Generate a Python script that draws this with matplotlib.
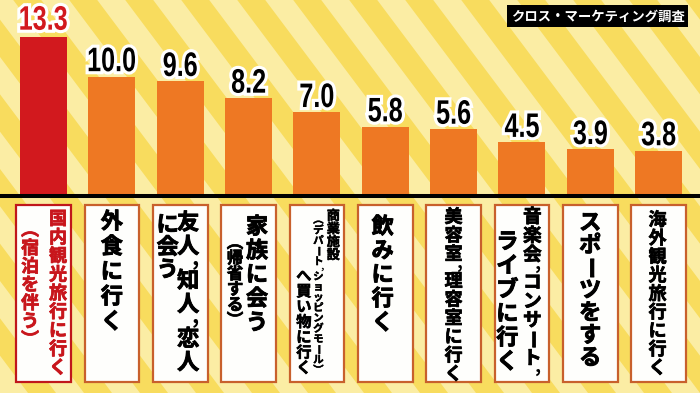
import matplotlib
matplotlib.use("Agg")
import matplotlib.pyplot as plt
import matplotlib.patches as mpatches
import matplotlib.transforms as mtransforms
import matplotlib.patheffects as pe
from matplotlib.textpath import TextPath
from matplotlib.font_manager import FontProperties

plt.rcParams['font.family'] = ['Noto Sans CJK JP', 'DejaVu Sans']

# --- data ---
categories = [
    "国内観光旅行に行く\n（宿泊を伴う）",
    "外食に行く",
    "友人，知人，恋人\nに会う",
    "家族に会う\n（帰省する）",
    "商業施設\n（デパート，ショッピングモール）\nへ買い物に行く",
    "飲みに行く",
    "美容室，理容室に行く",
    "音楽会，コンサート，\nライブに行く",
    "スポーツをする",
    "海外観光旅行に行く",
]
values = [13.3, 10.0, 9.6, 8.2, 7.0, 5.8, 5.6, 4.5, 3.9, 3.8]
source = "クロス・マーケティング調査"

# column layout of each vertical label: (dx px, first char y px, font size, step px)
label_cols = [
    [(14.5, 219, 13, 18.6), (-13.5, 230, 13, 18.3)],
    [(0, 222, 16, 25)],
    [(8, 223, 16, 23.7), (-12.5, 225, 16, 22.5)],
    [(8.5, 227, 16, 24), (-13.5, 243, 12, 15.5)],
    [(16.5, 216, 9.5, 13), (1.5, 220, 7.5, 10.4), (-13, 276, 11, 15.3)],
    [(-2.5, 227, 16, 24)],
    [(0, 217, 13, 18.6)],
    [(10.5, 217, 13.5, 19), (-14.5, 242, 16, 24)],
    [(0, 223, 16, 22.5)],
    [(-1, 220, 13, 18.5)],
]

W, H = 700, 393
RED = '#D2191E'
ORANGE = '#EE7823'

fig = plt.figure(figsize=(W / 100, H / 100), dpi=100)

# background with diagonal stripes (pixel coords)
bg = fig.add_axes([0, 0, 1, 1], zorder=0)
bg.set_xlim(0, W)
bg.set_ylim(H, 0)
bg.axis('off')
bg.add_patch(mpatches.Rectangle((0, 0), W, H, color='#F8DC5E', lw=0))
slant, period = 0.75, 56
x0 = -H * slant - period
while x0 < W + period:
    bg.add_patch(mpatches.Polygon(
        [(x0, 0), (x0 + period / 2, 0), (x0 + period / 2 + H * slant, H), (x0 + H * slant, H)],
        closed=True, color='#FBEDA4', lw=0))
    x0 += period

# source tag
bg.add_patch(mpatches.Rectangle((507, 5), 181, 22, color='black', lw=0))
bg.text(597.5, 16.5, source, color='white', fontsize=9.6, fontweight='bold',
        ha='center', va='center')

# bars
ax = fig.add_axes([0, 0, 1, 1], zorder=1)
ax.patch.set_alpha(0)
ax.axis('off')
ax.set_xlim(-0.637, 9.607)
px_per_unit = 11.95
ax.set_ylim(-197 / px_per_unit, 196 / px_per_unit)

x = list(range(len(values)))
colors = [RED] + [ORANGE] * (len(values) - 1)
ax.bar(x, values, width=0.69, color=colors, zorder=2)
ax.axhline(0, color='black', lw=2.9, zorder=3)

# value labels: condensed bold digits with a white rim
num_font = FontProperties(family='Liberation Sans', weight='bold')
for i, v in enumerate(values):
    tp = TextPath((0, 0), f"{v:.1f}", size=34, prop=num_font)
    ext = tp.get_extents()
    gap = 7 if i == 0 else 5
    tr = (mtransforms.Affine2D().translate(-(ext.x0 + ext.x1) / 2, -ext.y0)
          .scale(0.74, 1.0).translate(0, gap)
          + mtransforms.ScaledTranslation(i, v, ax.transData))
    ax.add_patch(mpatches.PathPatch(
        tp, transform=tr, facecolor=RED if i == 0 else 'black', edgecolor='none',
        clip_on=False, zorder=4,
        path_effects=[pe.withStroke(linewidth=4.5, foreground='white')]))

# label boxes: x tied to the bars, y in image pixels
pix = mtransforms.Affine2D().scale(1 / 100, -1 / 100).translate(0, H / 100) + fig.dpi_scale_trans
bx = mtransforms.blended_transform_factory(ax.transData, pix)

vertical_forms = {'（': '︵', '）': '︶'}
for i, label in enumerate(categories):
    edge = '#C0171B' if i == 0 else '#C8602C'
    tcol = '#C8161C' if i == 0 else 'black'
    ax.add_patch(mpatches.Rectangle((i - 0.4, 205), 0.8, 177, transform=bx,
                                    facecolor='#FEFEFC', edgecolor=edge, lw=1.6,
                                    clip_on=False, zorder=2))
    for col_text, (dx, y0, size, step) in zip(label.split('\n'), label_cols[i]):
        em = size * 100 / 72
        bold = [pe.withStroke(linewidth=0.04 * size, foreground=tcol)]
        y = y0 - step / 2
        for ch in col_text:
            adv = 0.45 if ch == '，' else 1.0
            yc = y + adv * step / 2
            if ch == '，':
                tr = mtransforms.offset_copy(bx, fig=fig, x=dx + 0.32 * em, y=0, units='dots')
                ax.text(i, yc - 0.3 * em, ',', transform=tr, fontsize=size, fontweight='bold',
                        color=tcol, ha='center', va='center', clip_on=False, zorder=3)
            else:
                tr = mtransforms.offset_copy(bx, fig=fig, x=dx, y=0, units='dots')
                ax.text(i, yc, vertical_forms.get(ch, ch), transform=tr, fontsize=size,
                        fontweight='bold', color=tcol, ha='center', va='center',
                        clip_on=False, zorder=3, path_effects=bold,
                        rotation=-90 if ch == 'ー' else 0, rotation_mode='anchor')
            y += adv * step

fig.savefig('out.png', dpi=100)
